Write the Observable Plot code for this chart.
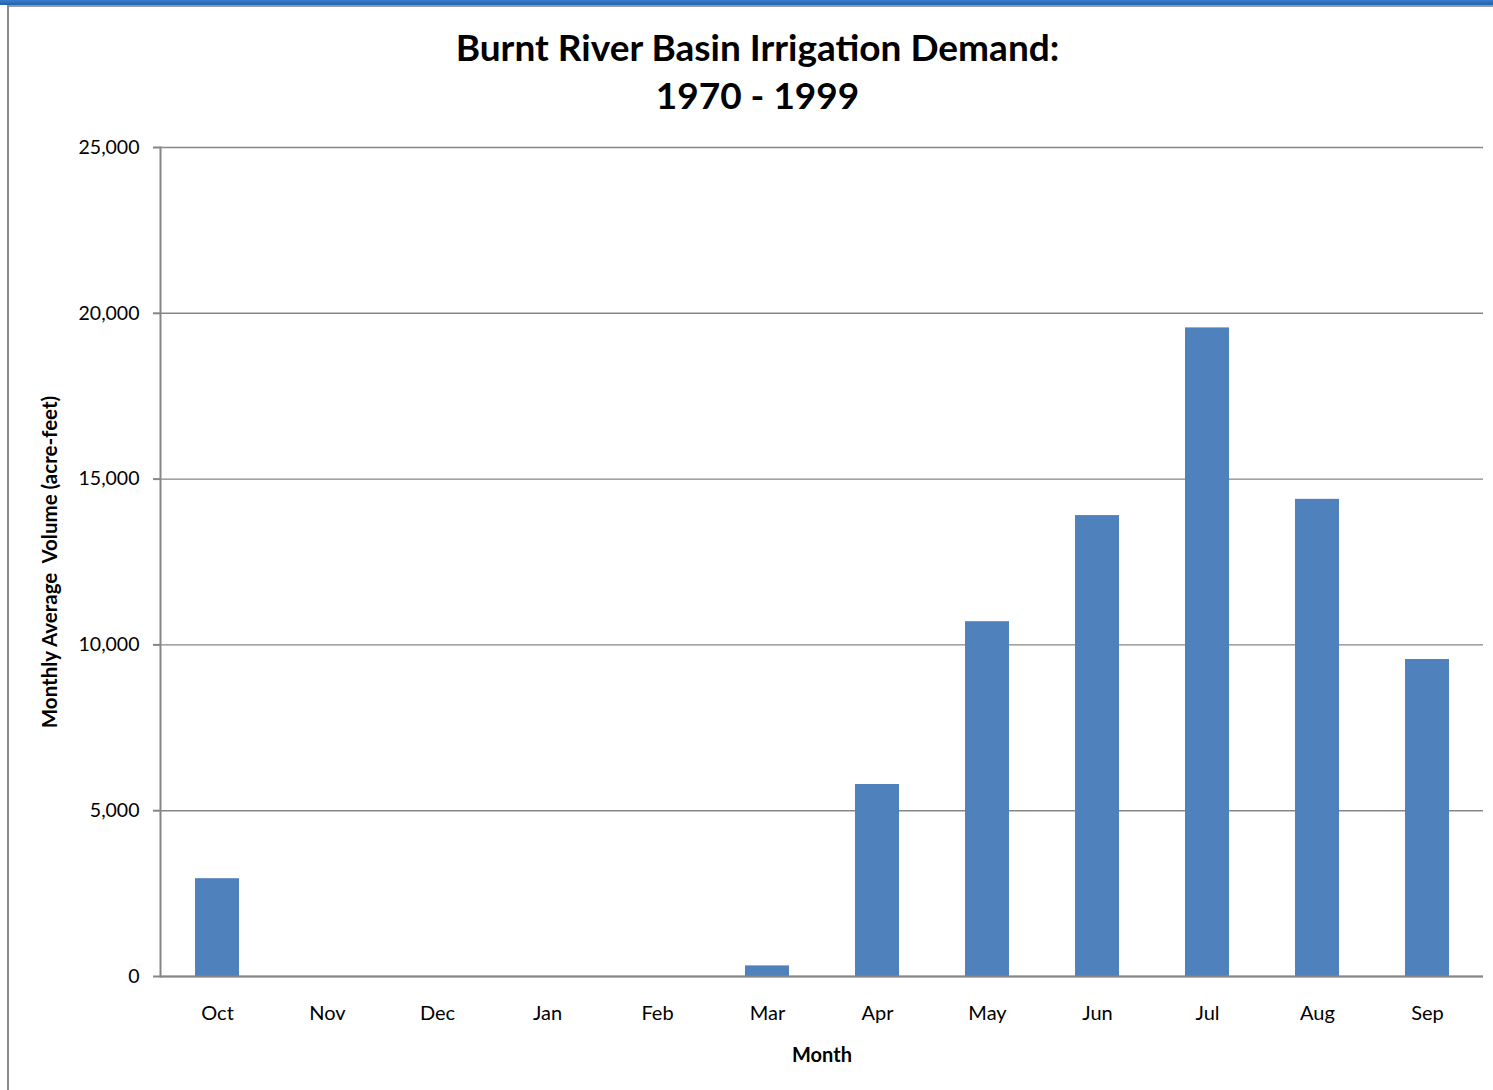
<!DOCTYPE html>
<html>
<head>
<meta charset="utf-8">
<script src="https://cdn.jsdelivr.net/npm/d3@7"></script>
<script src="https://cdn.jsdelivr.net/npm/@observablehq/plot@0.6"></script>
<style>
  html, body { margin: 0; padding: 0; background: #fff; }
  #wrap { position: relative; width: 1493px; height: 1090px; overflow: hidden; font-family: Lato, "Open Sans", sans-serif; }
  #topbar { position: absolute; left: 0; top: 0; width: 1493px; height: 5px; background: linear-gradient(#3a7cc6, #1c63b5); }
  #topline { position: absolute; left: 8px; top: 5px; width: 1485px; height: 2px; background: #9a9a9a; }
  #leftline { position: absolute; left: 7px; top: 5px; width: 2px; height: 1085px; background: #8a8a8a; }
  #title { position: absolute; left: 0; top: 23px; width: 1515px; text-align: center; font-weight: bold; font-size: 37px; line-height: 48px; color: #000; }
  #chart { position: absolute; left: 0; top: 130px; }
</style>
</head>
<body>
<div id="wrap">
  <div id="topbar"></div>
  <div id="topline"></div>
  <div id="leftline"></div>
  <div id="title">Burnt River Basin Irrigation Demand:<br>1970 - 1999</div>
  <div id="chart"></div>
</div>
<script>
const months = ["Oct", "Nov", "Dec", "Jan", "Feb", "Mar", "Apr", "May", "Jun", "Jul", "Aug", "Sep"];
const demand = [2950, 0, 0, 0, 0, 320, 5790, 10700, 13900, 19560, 14390, 9560];
const yTicks = [0, 5000, 10000, 15000, 20000, 25000];
const yLabel = "Monthly Average\u00a0 Volume (acre-feet)";
const xLabel = "Month";

const data = months.map((m, i) => ({month: m, value: demand[i]}));
const font = "Lato, 'Open Sans', sans-serif";

const chart = Plot.plot({
  width: 1493,
  height: 960,
  marginLeft: 160,
  marginRight: 10,
  marginTop: 17,
  marginBottom: 114,
  style: {fontFamily: font, background: "transparent", color: "#000"},
  x: {domain: months, paddingInner: 0.6, paddingOuter: 0.3, label: null},
  y: {domain: [0, 25000], label: null},
  marks: [
    Plot.gridY(yTicks, {stroke: "#868686", strokeOpacity: 1, strokeWidth: 1.4}),
    Plot.barY(data, {x: "month", y: "value", fill: "#4F81BD"}),
    Plot.frame({anchor: "left", stroke: "#868686", strokeWidth: 2}),
    Plot.ruleY([0], {stroke: "#868686", strokeWidth: 2}),
    Plot.axisY({ticks: yTicks, tickFormat: d3.format(","), tickSize: 7, tickPadding: 14, fontSize: 19.5, label: null, stroke: "#868686", strokeWidth: 2}),
    Plot.axisX({tickSize: 0, tickPadding: 29, fontSize: 20, label: null}),
    Plot.text([yLabel], {frameAnchor: "left", textAnchor: "middle", lineAnchor: "middle", dx: -110, rotate: -90, fontSize: 20.5, fontWeight: "bold", fill: "#000"}),
    Plot.text([xLabel], {frameAnchor: "bottom", textAnchor: "middle", lineAnchor: "middle", dy: 79, fontSize: 20, fontWeight: "bold", fill: "#000"})
  ]
});
document.getElementById("chart").appendChild(chart);
</script>
</body>
</html>
